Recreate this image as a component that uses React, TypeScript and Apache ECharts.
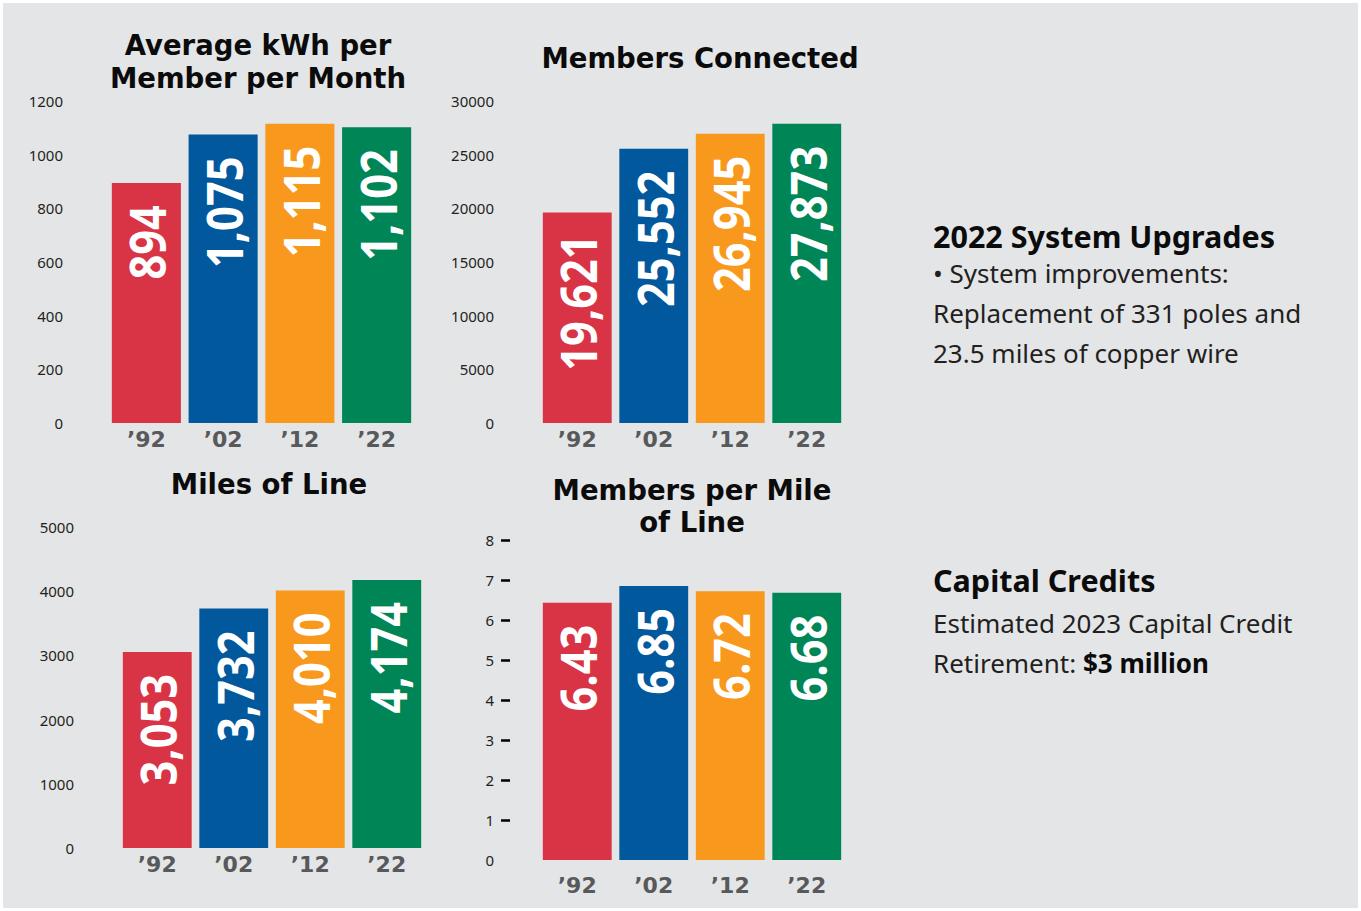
import React, { useEffect, useRef } from "react";
import * as echarts from "echarts";

const years = ["’92", "’02", "’12", "’22"];
const kwhValues = [894, 1075, 1115, 1102];
const membersValues = [19621, 25552, 26945, 27873];
const milesValues = [3053, 3732, 4010, 4174];
const perMileValues = [6.43, 6.85, 6.72, 6.68];
const barColors = ["#d93445", "#02589c", "#f8991d", "#008556"];

const titles = [
  "Average kWh per\nMember per Month",
  "Members Connected",
  "Miles of Line",
  "Members per Mile\nof Line",
];

const LABEL_FONT = "'Open Sans', 'Noto Sans', sans-serif";
const TITLE_FONT = "'DejaVu Sans', Lato, sans-serif";
const BODY_FONT = "'Noto Sans', 'Open Sans', sans-serif";

export default function App() {
  const ref = useRef<HTMLDivElement>(null);

  useEffect(() => {
    document.body.style.margin = "0";
    const chart = echarts.init(ref.current!, null, { renderer: "svg" });

    const grids = [
      { left: 108, top: 101, width: 307, height: 322 },
      { left: 539, top: 101, width: 306, height: 322 },
      { left: 119, top: 527, width: 306, height: 321 },
      { left: 539, top: 540, width: 306, height: 320 },
    ];
    const axes = [
      { max: 1200, interval: 200 },
      { max: 30000, interval: 5000 },
      { max: 5000, interval: 1000 },
      { max: 8, interval: 1 },
    ];
    const datasets = [kwhValues, membersValues, milesValues, perMileValues];
    const fmt = (v: number, i: number) =>
      i === 3 ? v.toFixed(2) : v.toLocaleString("en-US");

    const barSeries = datasets.map((vals, i) => ({
      type: "bar",
      xAxisIndex: i,
      yAxisIndex: i,
      barCategoryGap: "10%",
      data: vals.map((v, j) => ({ value: v, itemStyle: { color: barColors[j] } })),
    }));

    const labelSeries = datasets.map((vals, i) => ({
      type: "custom",
      xAxisIndex: i,
      yAxisIndex: i,
      z: 5,
      silent: true,
      encode: { x: 0, y: 1 },
      data: vals.map((v, j) => [j, v]),
      renderItem: (params: any, api: any) => {
        const pt = api.coord([api.value(0), api.value(1)]);
        return {
          type: "text",
          x: pt[0],
          y: pt[1] + 22,
          rotation: Math.PI / 2,
          scaleX: 0.85,
          style: {
            text: fmt(api.value(1), i),
            align: "right",
            verticalAlign: "middle",
            fontFamily: LABEL_FONT,
            fontWeight: "bold",
            fontSize: 51,
            fill: "#ffffff",
          },
        };
      },
    }));

    const titleText = (text: string, x: number, y: number, lh = 33) => ({
      type: "text",
      x,
      y,
      style: {
        text,
        align: "center",
        verticalAlign: "middle",
        lineHeight: lh,
        fontFamily: TITLE_FONT,
        fontWeight: "bold",
        fontSize: 27.5,
        fill: "#0b0b0b",
      },
    });

    const option: any = {
      animation: false,
      backgroundColor: "#ffffff",
      grid: grids.map((g) => ({ ...g, containLabel: false })),
      xAxis: grids.map((_, i) => ({
        type: "category",
        gridIndex: i,
        data: years,
        axisLine: { show: false },
        axisTick: { show: false },
        axisLabel: {
          color: "#58595b",
          fontFamily: TITLE_FONT,
          fontWeight: "bold",
          fontSize: 22,
          margin: i === 3 ? 14 : 5,
        },
      })),
      yAxis: axes.map((a, i) => ({
        type: "value",
        gridIndex: i,
        min: 0,
        max: a.max,
        interval: a.interval,
        offset: i === 3 ? 29 : 0,
        splitLine: { show: false },
        axisLine: { show: false },
        axisTick:
          i === 3
            ? {
                show: true,
                inside: false,
                length: 9,
                lineStyle: { color: "#000", width: 2.5 },
                customValues: [1, 2, 3, 4, 5, 6, 7, 8],
              }
            : { show: false },
        axisLabel: {
          color: "#231f20",
          fontFamily: BODY_FONT,
          fontSize: 15,
          margin: i === 3 ? 16 : 45,
          formatter: (v: number) => String(v),
        },
      })),
      series: [...barSeries, ...labelSeries],
      graphic: [
        {
          type: "rect",
          silent: true,
          z: -10,
          shape: { x: 3, y: 3, width: 1355, height: 905 },
          style: { fill: "#e4e5e7" },
        },
        titleText(titles[0], 258, 61, 33),
        titleText(titles[1], 700, 58, 30),
        titleText(titles[2], 269, 484, 30),
        titleText(titles[3], 692, 506, 32),
        {
          type: "text",
          x: 933,
          y: 236,
          style: {
            text: "2022 System Upgrades",
            verticalAlign: "middle",
            lineHeight: 30,
            fontFamily: BODY_FONT,
            fontWeight: "bold",
            fontSize: 30.5,
            fill: "#0b0b0b",
          },
        },
        {
          type: "text",
          x: 933,
          y: 313,
          style: {
            text: "• System improvements:\nReplacement of 331 poles and\n23.5 miles of copper wire",
            verticalAlign: "middle",
            lineHeight: 40,
            fontFamily: BODY_FONT,
            fontSize: 26,
            fill: "#231f20",
          },
        },
        {
          type: "text",
          x: 933,
          y: 580,
          style: {
            text: "Capital Credits",
            verticalAlign: "middle",
            lineHeight: 30,
            fontFamily: BODY_FONT,
            fontWeight: "bold",
            fontSize: 30.5,
            fill: "#0b0b0b",
          },
        },
        {
          type: "text",
          x: 933,
          y: 643,
          style: {
            text: "Estimated 2023 Capital Credit\nRetirement: {b|$3 million}",
            verticalAlign: "middle",
            lineHeight: 40,
            fontFamily: BODY_FONT,
            fontSize: 26,
            fill: "#231f20",
            rich: {
              b: {
                fontFamily: BODY_FONT,
                fontWeight: "bold",
                fontSize: 26,
                fill: "#0b0b0b",
                lineHeight: 40,
              },
            },
          },
        },
      ],
    };

    chart.setOption(option);
    return () => chart.dispose();
  }, []);

  return <div ref={ref} style={{ width: 1361, height: 911 }} />;
}
